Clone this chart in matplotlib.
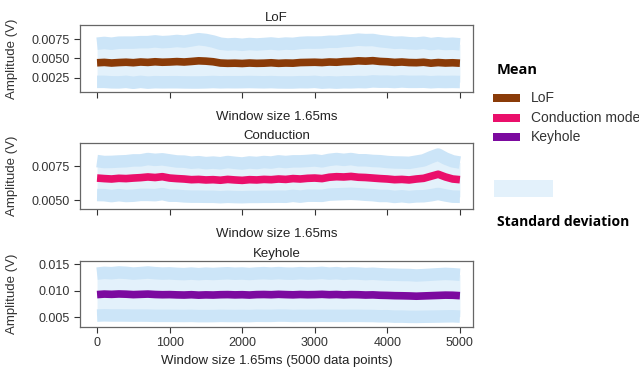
import matplotlib
matplotlib.use("Agg")
import matplotlib.pyplot as plt
from matplotlib.patches import Rectangle
import numpy as np

# sample positions (data point index)
x_points = list(range(0, 5001, 100))

# mean amplitude, mV
lof_mean = [4.45, 4.50, 4.42, 4.48, 4.52, 4.46, 4.55, 4.50, 4.58, 4.52,
            4.55, 4.60, 4.55, 4.62, 4.70, 4.66, 4.58, 4.42, 4.38, 4.40,
            4.36, 4.42, 4.38, 4.40, 4.45, 4.38, 4.42, 4.40, 4.48, 4.50,
            4.52, 4.48, 4.55, 4.52, 4.60, 4.62, 4.70, 4.66, 4.72, 4.62,
            4.58, 4.50, 4.55, 4.48, 4.46, 4.52, 4.40, 4.48, 4.42, 4.45,
            4.40]
cond_mean = [6.62, 6.58, 6.55, 6.60, 6.58, 6.62, 6.65, 6.70, 6.66, 6.72,
             6.62, 6.58, 6.55, 6.50, 6.52, 6.48, 6.50, 6.46, 6.52, 6.48,
             6.45, 6.50, 6.48, 6.52, 6.50, 6.55, 6.52, 6.58, 6.55, 6.60,
             6.62, 6.58, 6.68, 6.72, 6.70, 6.74, 6.68, 6.66, 6.62, 6.58,
             6.55, 6.50, 6.52, 6.48, 6.55, 6.60, 6.75, 6.90, 6.70, 6.55,
             6.50]
key_mean = [9.30, 9.40, 9.35, 9.42, 9.38, 9.30, 9.35, 9.40, 9.32, 9.28,
            9.30, 9.25, 9.22, 9.28, 9.20, 9.25, 9.22, 9.28, 9.30, 9.25,
            9.28, 9.22, 9.30, 9.32, 9.28, 9.35, 9.30, 9.26, 9.32, 9.28,
            9.30, 9.35, 9.28, 9.32, 9.25, 9.30, 9.28, 9.22, 9.25, 9.18,
            9.15, 9.10, 9.08, 9.05, 9.00, 9.05, 9.10, 9.15, 9.20, 9.18,
            9.10]

# standard deviation, mV
lof_std = [2.45, 2.50, 2.48, 2.55, 2.52, 2.58, 2.55, 2.60, 2.62, 2.58,
           2.60, 2.65, 2.62, 2.70, 2.78, 2.72, 2.60, 2.48, 2.42, 2.45,
           2.40, 2.44, 2.42, 2.46, 2.48, 2.45, 2.50, 2.48, 2.52, 2.55,
           2.52, 2.58, 2.60, 2.62, 2.65, 2.68, 2.72, 2.70, 2.66, 2.60,
           2.55, 2.52, 2.50, 2.48, 2.46, 2.50, 2.45, 2.48, 2.44, 2.45,
           2.42]
cond_std = [1.25, 1.22, 1.26, 1.24, 1.28, 1.30, 1.27, 1.32, 1.30, 1.28,
            1.30, 1.26, 1.28, 1.25, 1.27, 1.24, 1.26, 1.25, 1.28, 1.26,
            1.24, 1.27, 1.25, 1.28, 1.26, 1.30, 1.28, 1.27, 1.30, 1.28,
            1.30, 1.27, 1.28, 1.30, 1.26, 1.28, 1.25, 1.27, 1.26, 1.28,
            1.25, 1.27, 1.24, 1.26, 1.28, 1.32, 1.40, 1.45, 1.36, 1.30,
            1.26]
key_std = [3.95, 4.00, 3.98, 4.05, 4.02, 3.96, 4.00, 4.06, 4.02, 3.98,
           4.00, 3.96, 3.94, 3.98, 3.95, 4.00, 3.96, 3.98, 4.02, 3.98,
           4.00, 3.96, 3.98, 4.02, 3.98, 4.00, 3.96, 3.98, 4.02, 3.99,
           4.00, 4.04, 3.98, 4.02, 3.96, 4.00, 3.98, 3.94, 3.98, 3.96,
           3.92, 3.95, 3.92, 3.94, 3.90, 3.92, 3.95, 3.98, 4.00, 3.96,
           3.94]

titles = ["LoF", "Conduction", "Keyhole"]
legend_labels = ["LoF", "Conduction mode", "Keyhole"]
colors = ["#8a3b08", "#ea0f6b", "#7c0a9f"]
ylims = [(0.0007, 0.0093), (0.00434, 0.00919), (0.0032, 0.0156)]
yticks = [[0.0025, 0.0050, 0.0075], [0.0050, 0.0075], [0.005, 0.010, 0.015]]
ytick_fmt = ["{:.4f}", "{:.4f}", "{:.3f}"]
xticks = [0, 1000, 2000, 3000, 4000, 5000]

band_fill = "#e3f1fb"
band_edge = "#cce5f8"

plt.rcParams["font.family"] = ["Liberation Sans", "DejaVu Sans"]

fig = plt.figure(figsize=(6.39, 3.70), dpi=100)
positions = [
    [0.1252, 0.7514, 0.615, 0.181],
    [0.1252, 0.4351, 0.615, 0.178],
    [0.1252, 0.1162, 0.615, 0.178],
]

x = np.array(x_points)
means = [lof_mean, cond_mean, key_mean]
stds = [lof_std, cond_std, key_std]

for i in range(3):
    ax = fig.add_axes(positions[i])
    m = np.array(means[i]) * 1e-3
    s = np.array(stds[i]) * 1e-3
    ax.fill_between(x, m - s, m + s, color=band_fill, lw=0)
    ax.plot(x, m + s, color=band_edge, lw=9, solid_capstyle="butt")
    ax.plot(x, m - s, color=band_edge, lw=9, solid_capstyle="butt")
    ax.plot(x, m, color=colors[i], lw=5.5, solid_capstyle="butt")

    ax.set_xlim(-235, 5180)
    ax.set_ylim(*ylims[i])
    ax.set_xticks(xticks)
    ax.set_yticks(yticks[i])
    ax.set_yticklabels([ytick_fmt[i].format(v) for v in yticks[i]])
    ax.tick_params(labelsize=9, colors="#333333", length=4, width=0.8)
    for sp in ax.spines.values():
        sp.set_color("#666666")
        sp.set_linewidth(0.9)
    ax.set_title(titles[i], fontsize=9.5, pad=3, color="#222222")
    ax.set_ylabel("Amplitude (V)", fontsize=9.5, color="#333333")
    ax.yaxis.set_label_coords(-0.158, 0.5)
    if i < 2:
        ax.set_xticklabels([])
        ax.set_xlabel("Window size 1.65ms", fontsize=9.5, color="#222222", labelpad=6)
    else:
        ax.set_xlabel("Window size 1.65ms (5000 data points)", fontsize=9.5,
                      color="#222222", labelpad=4)

# legend drawn in figure pixels
W, H = 639, 370
fig.text(497 / W, 1 - 70 / H, "Mean", fontsize=10.5, fontweight="bold",
         family=["Open Sans", "DejaVu Sans"], va="center", ha="left")
for k, yc in enumerate([98, 118, 137]):
    fig.add_artist(Rectangle((493 / W, 1 - (yc + 4) / H), 27 / W, 8 / H,
                             transform=fig.transFigure, color=colors[k], lw=0))
    fig.text(531 / W, 1 - yc / H, legend_labels[k], fontsize=10,
             va="center", ha="left", color="#333333")
fig.add_artist(Rectangle((494 / W, 1 - 197 / H), 59 / W, 17 / H,
                         transform=fig.transFigure, color=band_fill, lw=0))
fig.text(497 / W, 1 - 222 / H, "Standard deviation", fontsize=10, fontweight="bold",
         family=["Open Sans", "DejaVu Sans"], va="center", ha="left")

fig.savefig("out.png", dpi=100)
